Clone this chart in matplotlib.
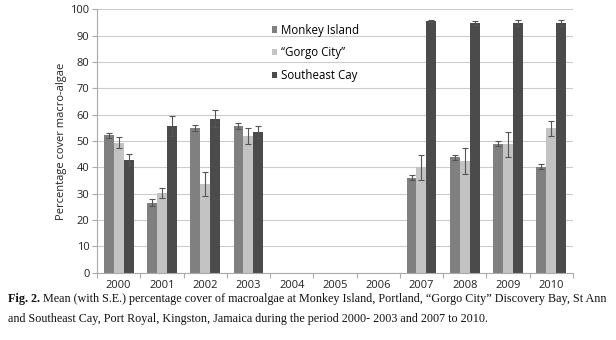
import matplotlib
matplotlib.use("Agg")
import matplotlib.pyplot as plt
import numpy as np

YEARS = ["2000", "2001", "2002", "2003", "2004", "2005", "2006", "2007", "2008", "2009", "2010"]
SITES = ["Monkey Island", "\u201cGorgo City\u201d", "Southeast Cay"]

NAN = np.nan
MONKEY = [52.2, 26.6, 54.9, 55.7, NAN, NAN, NAN, 36.1, 43.8, 49.0, 40.3]
MONKEY_SE = [0.9, 1.3, 1.0, 1.0, NAN, NAN, NAN, 0.9, 1.0, 0.95, 0.95]
GORGO = [49.4, 30.1, 33.6, 51.9, NAN, NAN, NAN, 40.0, 42.3, 48.7, 54.8]
GORGO_SE = [2.0, 1.9, 4.6, 3.2, NAN, NAN, NAN, 4.8, 4.9, 4.9, 2.8]
SOUTHEAST = [42.9, 55.7, 58.5, 53.4, NAN, NAN, NAN, 95.7, 94.7, 94.8, 94.8]
SOUTHEAST_SE = [2.0, 3.8, 3.1, 2.4, NAN, NAN, NAN, 0.4, 0.75, 1.0, 1.0]

COLORS = ["#808080", "#c3c3c3", "#4b4b4b"]

CAPTION_BOLD = "Fig. 2."
CAPTION_LINE1 = (" Mean (with S.E.) percentage cover of macroalgae at Monkey Island, Portland, "
                 "\u201cGorgo City\u201d Discovery Bay, St Ann")
CAPTION_LINE2 = ("and Southeast Cay, Port Royal, Kingston, Jamaica during the period "
                 "2000- 2003 and 2007 to 2010.")


def main():
    plt.rcParams["font.family"] = ["Open Sans", "DejaVu Sans"]

    fig = plt.figure(figsize=(6.16, 3.40), dpi=100)
    ax = fig.add_axes([0.1575, 0.198, 0.7725, 0.7745])

    x = np.arange(len(YEARS))
    width = 0.23
    series = [(MONKEY, MONKEY_SE), (GORGO, GORGO_SE), (SOUTHEAST, SOUTHEAST_SE)]
    for i, (vals, errs) in enumerate(series):
        ax.bar(x + (i - 1) * width, vals, width, color=COLORS[i], label=SITES[i],
               yerr=errs, error_kw=dict(ecolor="#555555", elinewidth=0.8,
                                        capsize=2.2, capthick=0.8),
               zorder=2)

    ax.set_xlim(-0.5, len(YEARS) - 0.5)
    ax.set_ylim(0, 100)
    ax.set_yticks(np.arange(0, 101, 10))
    ax.set_xticks(x)
    ax.set_xticklabels(YEARS)
    ax.set_xticks(np.arange(-0.5, len(YEARS), 1.0), minor=True)
    ax.tick_params(axis="x", which="major", length=0, labelsize=8, pad=5, colors="#222222")
    ax.tick_params(axis="x", which="minor", length=3.5, color="#aaaaaa", width=0.8)
    ax.tick_params(axis="y", length=3.5, color="#aaaaaa", width=0.8, labelsize=8,
                   pad=2, labelcolor="#222222")
    ax.grid(True, axis="y", color="#cccccc", linewidth=0.8, zorder=0)
    ax.set_axisbelow(True)
    for side in ["top", "right"]:
        ax.spines[side].set_visible(False)
    for side in ["left", "bottom"]:
        ax.spines[side].set_color("#aaaaaa")
        ax.spines[side].set_linewidth(0.8)

    ax.set_ylabel("Percentage cover macro-algae", fontsize=8, labelpad=2, color="#222222")

    ax.legend(loc="upper left", bbox_to_anchor=(0.345, 0.985), frameon=False,
              fontsize=8.3, handlelength=0.45, handleheight=0.45, handletextpad=0.35,
              labelspacing=0.85)

    fs = 8.75
    bold = fig.text(8 / 616, 1 - 302 / 340, CAPTION_BOLD, fontsize=fs,
                    fontweight="bold", family="Liberation Serif", va="baseline",
                    color="#111111")
    ax.annotate(CAPTION_LINE1, xy=(1, 0), xycoords=bold, va="bottom", ha="left",
                fontsize=fs, family="Liberation Serif", color="#111111",
                annotation_clip=False)
    fig.text(8 / 616, 1 - 322 / 340, CAPTION_LINE2, fontsize=fs,
             family="Liberation Serif", va="baseline", color="#111111")

    fig.savefig("out.png", dpi=100)
    plt.close(fig)


if __name__ == "__main__":
    main()
